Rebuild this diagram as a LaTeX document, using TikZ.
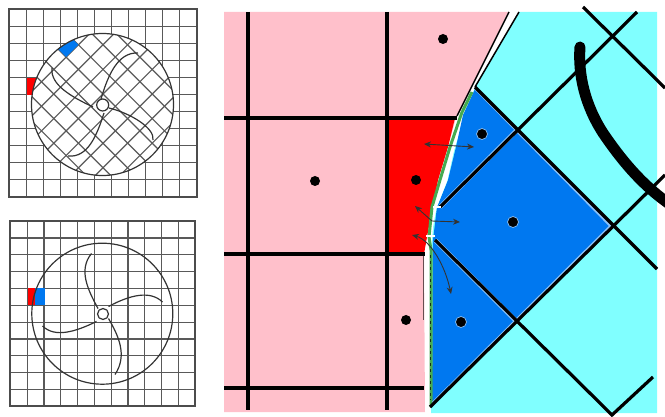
\documentclass[tikz,border=0pt]{standalone}
\usepackage{tikz}
\usetikzlibrary{arrows.meta}
\usepackage{xcolor}
\definecolor{cellpink}{RGB}{255,192,203}
\definecolor{cellcyan}{RGB}{128,255,255}
\definecolor{cellblue}{RGB}{0,120,240}
\definecolor{cellred}{RGB}{255,0,0}
\definecolor{slipgreen}{RGB}{70,170,80}
\tikzset{
    meshline/.style={gray!70!black, line width=1.2pt},
    frameline/.style={black!70, line width=1.8pt},
    bladeline/.style={black!80, line width=1.2pt},
    gridline/.style={black, line width=3.2pt},
    celldot/.style={fill=black},
    fluxarrow/.style={{Stealth[length=7pt,width=6pt]}-{Stealth[length=7pt,width=6pt]}, black!80, line width=0.9pt},
}
\begin{document}
\begin{tikzpicture}[x=1pt,y=-1pt]
        \useasboundingbox (0,0) rectangle (665,417);

        % Upper panel, rotated mesh
        \foreach \i in {0,...,11} {
            \draw[meshline] ({9.3+17.04*\i},9.3) -- ({9.3+17.04*\i},196.8);
            \draw[meshline] (9.3,{9.3+17.04*\i}) -- (196.8,{9.3+17.04*\i});
        }
        \fill[cellred] (26.7,78) rectangle (36,95);
        \fill[white] (102.5,104.5) circle (71);
        \draw[frameline] (9.3,9.3) rectangle (196.8,196.8);
        \begin{scope}
            \clip (102.5,104.5) circle (71);
            \foreach \i in {-6,...,6} {
                \draw[meshline] (20,{20-9+24.6*\i}) -- (190,{190-9+24.6*\i});
                \draw[meshline] (20,{172.4+24.6*\i-20}) -- (190,{172.4+24.6*\i-190});
            }
            \fill[cellblue] (66.1,57.1) -- (78.4,44.8) -- (66.1,32.5) -- (53.8,44.8) -- cycle;
        \end{scope}
        \draw[bladeline] (102.5,104.5) circle (71);
        \fill[white] (102.7,105) circle (6);
        \draw[bladeline] (102.7,105) circle (6);
        \draw[bladeline] (93,107) .. controls (72,97) and (50,85) .. (52,68);
        \draw[bladeline] (101,99) .. controls (108,75) and (118,52) .. (138,53);
        \draw[bladeline] (109,108) .. controls (130,113) and (155,128) .. (153,140);
        \draw[bladeline] (104,113) .. controls (97,135) and (88,158) .. (68,156);

        % Lower panel, straight mesh
        \foreach \i in {0,...,11} {
            \draw[meshline] ({10.3+16.8*\i},221) -- ({10.3+16.8*\i},406);
            \draw[meshline] (10.3,{221.3+16.8*\i}) -- (195,{221.3+16.8*\i});
        }
        \fill[cellred] (27.7,288) rectangle (34.5,305);
        \fill[cellblue] (34.5,288) rectangle (44.5,305);
        \draw[frameline] (10,221) rectangle (195,406);
        \draw[bladeline] (102.3,313.7) circle (70.5);
        \fill[white] (103,314) circle (5.5);
        \draw[bladeline] (103,314) circle (5.5);
        \draw[bladeline] (91.5,253.5) .. controls (78,270) and (88,290) .. (98,308.5);
        \draw[bladeline] (162.5,302) .. controls (150,290) and (130,295) .. (108.5,306.5);
        \draw[bladeline] (115,374.5) .. controls (128,355) and (118,335) .. (108.5,318.5);
        \draw[bladeline] (42.5,326) .. controls (55,338) and (75,332) .. (96.5,321.5);

        % Fine side of the sliding interface
        \fill[cellpink] (224,12) -- (508,12) -- (456,118) -- (448,147) -- (438,180) -- (431,215) -- (424,254) -- (425,412) -- (224,412) -- cycle;
        \fill[cellred] (387,118) -- (455,118) -- (448,147) -- (438,180) -- (431,215) -- (424,254) -- (387,254) -- cycle;

        % Coarse side of the interface
        \fill[cellcyan] (519,12) -- (657,12) -- (657,413) -- (431,413) -- (431,250) -- (435,207) -- (475,87) -- cycle;
        \fill[cellblue] (475,89) -- (612,226) -- (517,322) -- (432,407) -- (433,240) -- (437,207) -- (448,180) -- (456,147) -- (463,115) -- cycle;

        % Interface strips
        \draw[white, line width=3.5pt, line join=round] (459,116) -- (453,147) -- (445.7,180) -- (435,207) -- (429,237) -- (427,250) -- (427,410);
        \draw[slipgreen, line width=3pt, line join=round] (472,92) -- (461.7,113) -- (450,147) -- (440,180) -- (432,207) -- (429,237) -- (431,250) -- (431,407);
        \draw[black!70!slipgreen, line width=1pt, dashed] (430.5,255) -- (430.5,400);
        \draw[black, line width=1.5pt] (509,12) -- (457,116);
        \draw[black, line width=1.5pt] (519,12) -- (475,87);
        \draw[black!60!cellpink, line width=1pt] (423,255) -- (423,320);

        % Grid of the fine side
        \draw[gridline] (248,12) -- (248,410);
        \draw[gridline] (387,12) -- (387,410);
        \draw[gridline] (224,118) -- (457,118);
        \draw[gridline] (224,254) -- (425,254);
        \draw[gridline] (224,388) -- (424,388);

        % Grid of the coarse side
        \begin{scope}
            \clip (475,89) -- (612,226) -- (517,322) -- (432,407) -- (433,240) -- (437,207) -- (448,180) -- (456,147) -- (463,115) -- cycle;
            \draw[white!55!cellblue, line width=4.4pt] (475,87) -- (612,226);
            \draw[white!55!cellblue, line width=4.4pt] (435,240) -- (517,322);
            \draw[white!55!cellblue, line width=4.4pt] (440,207) -- (517,130);
            \draw[white!55!cellblue, line width=4.4pt] (430,407) -- (612,226);
        \end{scope}
        \draw[gridline] (475,87) -- (657,269);
        \draw[gridline] (435,240) -- (612,415) -- (653,377);
        \draw[gridline] (583,7) -- (665,88);
        \draw[gridline] (440,207) -- (637,12);
        \draw[gridline] (430,407) -- (665,175);
        \draw[white, line width=1.5pt] (433,207) -- (441,207);
        \draw[white, line width=1.5pt] (426,236) -- (435,236);

        % Rotating wall
        \draw[black, line width=11pt, line cap=round] (580,47) .. controls (578,75) and (585,105) .. (603,133) .. controls (620,158) and (640,183) .. (668,203);

        % Cell centres
        \foreach \px/\py in {443/39,315/181,416/180,406/320} {
            \fill[celldot] (\px,\py) circle (5);
        }
        \foreach \px/\py in {482/134,513/222,461/322} {
            \fill[celldot, draw=white!55!cellblue, line width=0.7pt] (\px,\py) circle (5.5);
        }

        % Fluxes
        \draw[fluxarrow] (424,144) -- (474,147);
        \draw[fluxarrow] (415,206) -- (432,221) -- (460,222);
        \draw[fluxarrow] (412,235) .. controls (430,240) and (445,265) .. (451,294);
    \end{tikzpicture}
\end{document}
